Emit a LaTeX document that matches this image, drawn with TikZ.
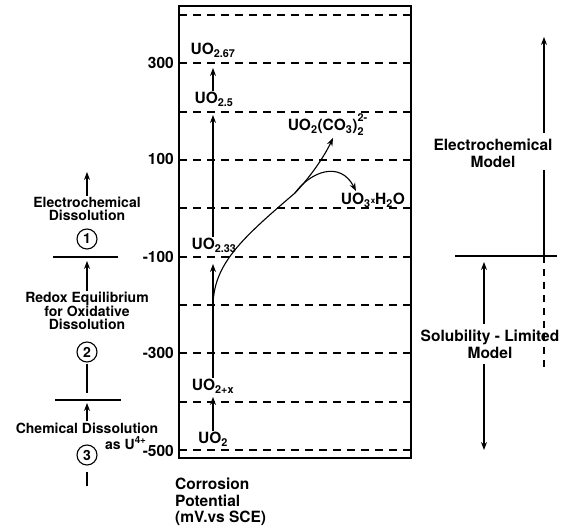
\documentclass[tikz,border=0pt]{standalone}
\usepackage{fontspec}
\setmainfont{TeX Gyre Heros}
\usetikzlibrary{arrows.meta}
\begin{document}
\begin{tikzpicture}[x=1pt,y=-1pt,
  font=\bfseries\fontsize{15.5}{17}\selectfont,
  arr/.style={-{Stealth[length=8pt,width=6pt]}, line width=1.1pt},
  plain/.style={line width=1.1pt},
  gridline/.style={line width=1.1pt, dash pattern=on 8pt off 6pt},
  lab/.style={inner sep=1pt, align=center},
  small/.style={font=\bfseries\fontsize{14}{13.5}\selectfont},
  num/.style={anchor=east, inner sep=0pt},
  circ/.style={circle, draw, line width=1.1pt, minimum size=20pt, inner sep=0pt, font=\bfseries\fontsize{14}{14}\selectfont}]
\useasboundingbox (0,0) rectangle (574,529);
% box
\draw[line width=1.1pt] (179,6) rectangle (411,458);
\foreach \yy in {15,63,112,160,208,257,305,353,402,450}
  \draw[gridline] (179,\yy) -- (411,\yy);
% tick labels
\node[num] (t300) at (174,63) {300};
\node[num] (t100) at (174,159) {100};
\node[num] (tm100) at (174,257) {-100};
\node[num] (tm300) at (174,353) {-300};
\node[num] (tm500) at (174,451) {-500};
% species
\node[lab] (uo2) at (213,439) {UO\textsubscript{2}};
\node[lab] (uo2x) at (213,386) {UO\textsubscript{2+x}};
\node[lab] (uo233) at (214,245) {UO\textsubscript{2.33}};
\node[lab] (uo25) at (214,99) {UO\textsubscript{2.5}};
\node[lab] (uo267) at (213,50) {UO\textsubscript{2.67}};
\node[lab] (carb) at (328,125) {UO\textsubscript{2}(CO\textsubscript{3})\rlap{\raisebox{0.45ex}{\textsuperscript{2-}}}\raisebox{-0.25ex}{\textsubscript{2}}\hphantom{\textsuperscript{-}}};
\node[lab] (hyd) at (373,200) {UO\textsubscript{3}{\footnotesize\raisebox{0.25ex}{x}}H\textsubscript{2}O};
\coordinate (a1) at (213,397);
\coordinate (a2) at (213,264);
\coordinate (a3) at (213,115);
\coordinate (a4) at (213,68);
\draw[arr] (uo2.north) -- (a1);
\draw[arr] (uo2x.north) -- (a2);
\draw[arr] (uo233.north -| a3) -- (a3);
\draw[arr] (uo25.north -| a4) -- (a4);
% curves
\coordinate (cstart) at (213,307);
\coordinate (branch) at (295,193);
\coordinate (tipc) at (333,138);
\coordinate (tiph) at (356,191);
\draw[plain] (cstart) .. controls (213,265) and (240,240) .. (branch);
\draw[arr] (branch) .. controls (312,175) and (325,155) .. (tipc);
\draw[arr] (branch) .. controls (310,172) and (340,160) .. (tiph);
% axis title
\node[lab, anchor=north west, align=left, font=\bfseries\fontsize{15.5}{16.5}\selectfont] (axt) at (174,477) {Corrosion\\Potential\\(mV.vs SCE)};
% left column
\node[lab, small] (ed) at (87,209) {Electrochemical\\Dissolution};
\coordinate (ltop) at (87,172);
\draw[arr] (ed.north) -- (ltop);
\node[circ] (c1) at (87,239) {1};
\coordinate (h1l) at (53,257);
\coordinate (h1r) at (118,257);
\draw[plain] (h1l) -- (h1r);
\node[lab, small] (redox) at (87,311) {Redox Equilibrium\\for Oxidative\\Dissolution};
\coordinate (h1m) at (87,261);
\draw[arr] (redox.north) -- (h1m);
\node[circ] (c2) at (87,352) {2};
\coordinate (l2b) at (87,393);
\draw[plain] (c2.south) ++(0,1) -- (l2b);
\coordinate (h2l) at (55,400);
\coordinate (h2r) at (121,400);
\draw[plain] (h2l) -- (h2r);
\node[lab, small] (chem) at (87,428) {Chemical Dissolution};
\coordinate (h2m) at (87,403);
\draw[arr] (chem.north) -- (h2m);
\node[lab, small, anchor=west] (asu) at (104,443) {as U\textsuperscript{4+}};
\node[circ] (c3) at (87,455) {3};
\coordinate (l3a) at (87,472);
\coordinate (l3b) at (87,486);
\draw[plain] (l3a) -- (l3b);
% right column
\node[lab] (em) at (493,153) {Electrochemical\\Model};
\coordinate (r0) at (544,256);
\coordinate (r1) at (544,170);
\coordinate (r2) at (544,133);
\coordinate (r3) at (544,37);
\draw[plain] (r0) -- (r1);
\draw[arr] (r2) -- (r3);
\coordinate (hrl) at (455,256);
\coordinate (hrr) at (557,256);
\draw[plain] (hrl) -- (hrr);
\coordinate (rd) at (544,372);
\draw[line width=1.1pt, dash pattern=on 7pt off 6pt] (r0) -- (rd);
\node[lab] (sm) at (490,344) {Solubility - Limited\\Model};
\coordinate (su) at (484,262);
\coordinate (sd) at (484,450);
\draw[arr] (sm.north -| su) ++(0,-4) -- (su);
\draw[arr] (sm.south -| sd) ++(0,4) -- (sd);
\end{tikzpicture}
\end{document}
